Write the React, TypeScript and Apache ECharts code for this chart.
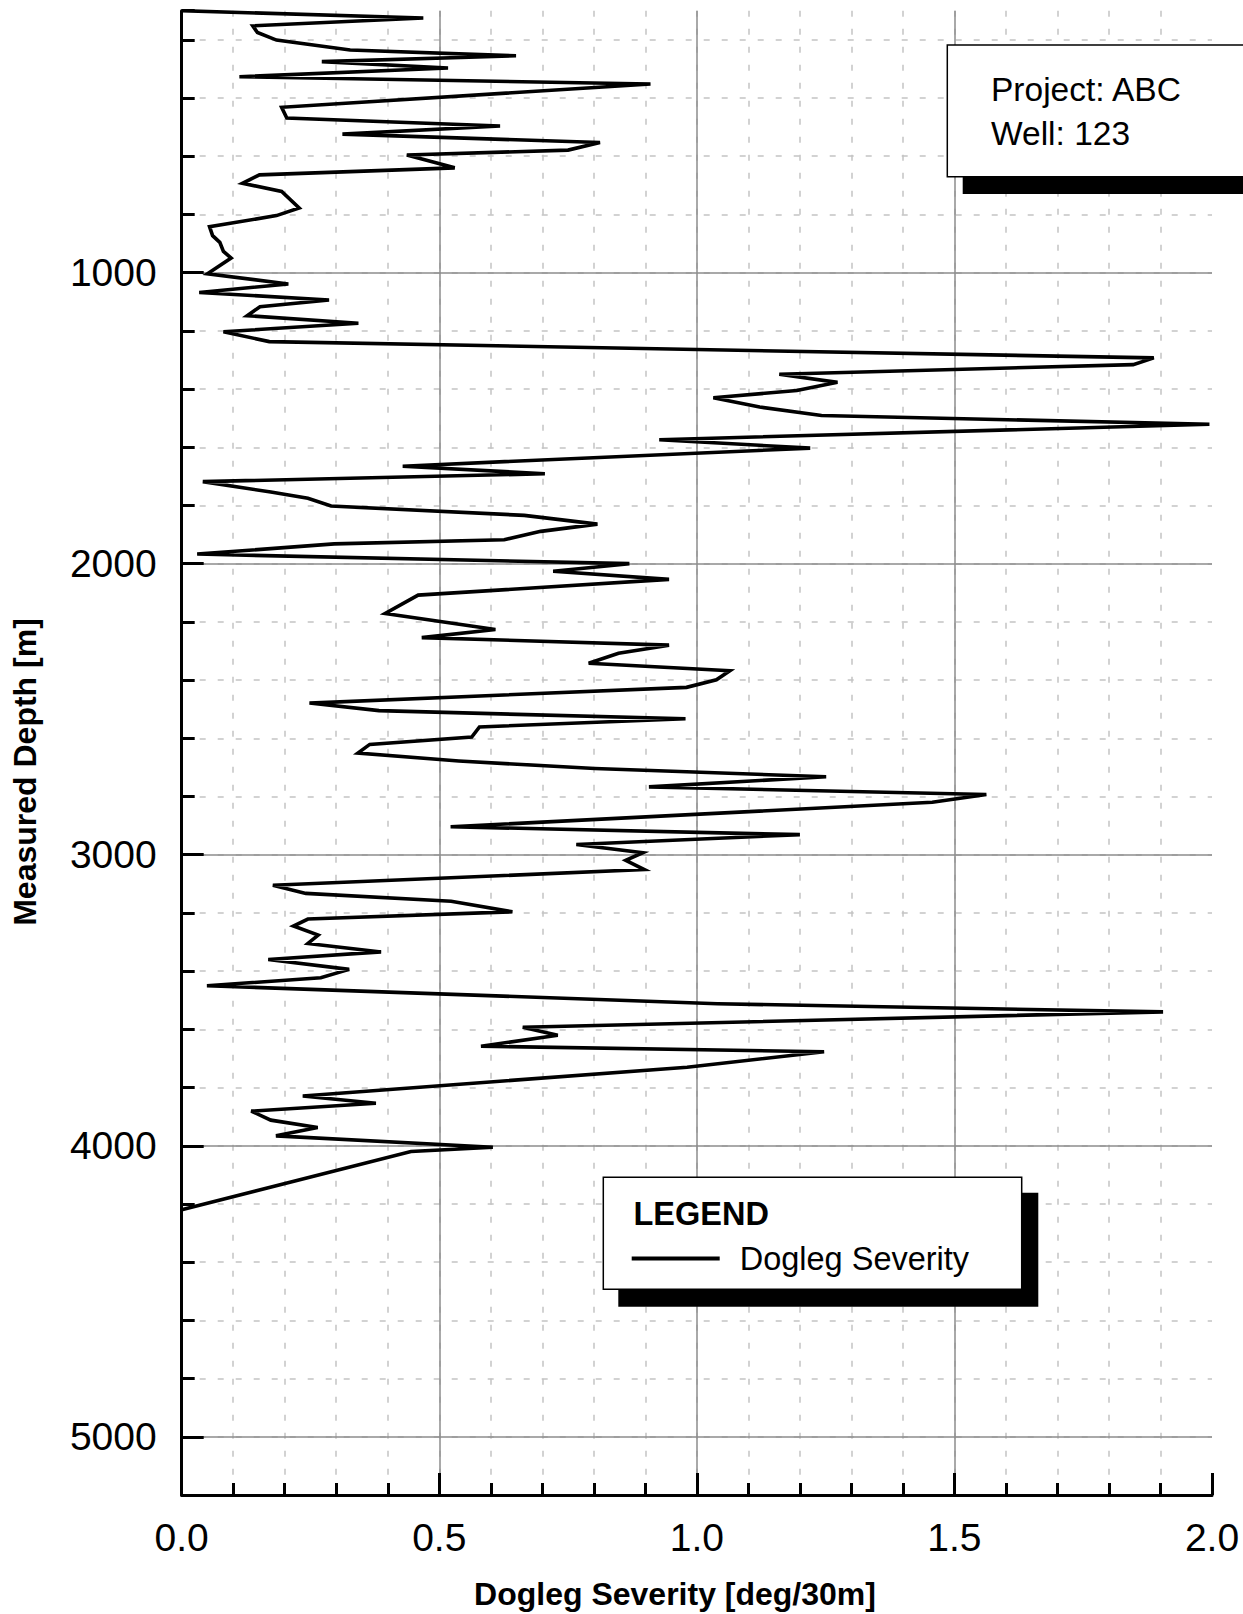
import React, { useEffect, useRef } from "react";
import * as echarts from "echarts";

// Measured depth [m] of each survey station
const depths = [
  100, 125, 152, 175, 201, 235, 255, 275, 297, 327,
  352, 432, 469, 496, 524, 553, 579, 596, 640, 664,
  693, 721, 778, 804, 842, 873, 896, 927, 950, 1004,
  1039, 1068, 1094, 1117, 1148, 1174, 1203, 1237, 1293, 1316,
  1349, 1377, 1405, 1430, 1462, 1491, 1521, 1574, 1603, 1665,
  1691, 1718, 1754, 1775, 1802, 1834, 1864, 1889, 1918, 1932,
  1967, 2000, 2026, 2054, 2108, 2171, 2226, 2254, 2280, 2308,
  2342, 2368, 2399, 2425, 2479, 2505, 2533, 2561, 2596, 2621,
  2651, 2678, 2704, 2732, 2767, 2793, 2820, 2904, 2931, 2965,
  2993, 3019, 3051, 3105, 3133, 3160, 3196, 3221, 3245, 3276,
  3305, 3334, 3360, 3394, 3423, 3450, 3512, 3540, 3593, 3620,
  3658, 3677, 3730, 3829, 3854, 3881, 3912, 3937, 3966, 4005,
  4020, 4220,
];

// Dogleg severity [deg/30m] at each station
const dogleg = [
  0.0, 0.469, 0.138, 0.147, 0.184, 0.327, 0.649, 0.272, 0.517, 0.112,
  0.91, 0.194, 0.204, 0.618, 0.312, 0.812, 0.75, 0.437, 0.53, 0.151,
  0.118, 0.194, 0.228, 0.184, 0.054, 0.06, 0.074, 0.081, 0.096, 0.05,
  0.207, 0.034, 0.286, 0.152, 0.127, 0.343, 0.081, 0.17, 1.887, 1.847,
  1.16, 1.273, 1.194, 1.032, 1.122, 1.242, 1.995, 0.927, 1.22, 0.429,
  0.705, 0.041, 0.173, 0.245, 0.29, 0.665, 0.807, 0.697, 0.626, 0.296,
  0.03, 0.869, 0.721, 0.946, 0.459, 0.395, 0.609, 0.466, 0.946, 0.848,
  0.79, 1.064, 1.038, 0.98, 0.248, 0.383, 0.978, 0.578, 0.563, 0.365,
  0.342, 0.538, 0.802, 1.251, 0.907, 1.562, 1.457, 0.522, 1.2, 0.766,
  0.895, 0.862, 0.898, 0.177, 0.241, 0.523, 0.642, 0.245, 0.217, 0.265,
  0.245, 0.387, 0.168, 0.325, 0.27, 0.049, 1.04, 1.905, 0.662, 0.73,
  0.581, 1.247, 0.981, 0.235, 0.377, 0.135, 0.173, 0.264, 0.183, 0.604,
  0.445, 0.0,
];

const yTickLabels = [1000, 2000, 3000, 4000, 5000];
const xTickLabels = ["0.0", "0.5", "1.0", "1.5", "2.0"];
const seriesName = "Dogleg Severity";
const infoLines = ["Project: ABC", "Well: 123"];
const xTitle = "Dogleg Severity [deg/30m]";
const yTitle = "Measured Depth [m]";
const legendTitle = "LEGEND";

const FONT = "'Liberation Sans', Arial, Helvetica, sans-serif";

export default function App() {
  const ref = useRef<HTMLDivElement>(null);

  useEffect(() => {
    if (!ref.current) return;
    const chart = echarts.init(ref.current, undefined, { renderer: "svg" });
    const data = depths.map((d, i) => [dogleg[i], d]);

    const option: any = {
      animation: false,
      backgroundColor: "#ffffff",
      grid: {
        left: 181.7,
        right: 31,
        top: 10.7,
        bottom: 119,
        containLabel: false,
        outerBoundsMode: "none",
      },
      xAxis: [
        {
          type: "value",
          position: "bottom",
          min: 0,
          max: 2,
          interval: 0.5,
          z: 3,
          axisLine: { show: true, onZero: false, lineStyle: { color: "#000", width: 3 } },
          axisTick: { show: true, inside: true, length: 22, lineStyle: { color: "#000", width: 3 } },
          axisLabel: {
            show: true,
            margin: 23,
            color: "#000",
            fontSize: 39,
            fontFamily: FONT,
            formatter: (v: number) => xTickLabels[Math.round(v / 0.5)] ?? "",
          },
          splitLine: {
            show: true,
            showMinLine: false,
            showMaxLine: false,
            lineStyle: { color: "#8c8c8c", width: 1.5, type: "solid" },
          },
        },
        {
          type: "value",
          position: "bottom",
          min: 0,
          max: 2,
          interval: 0.1,
          z: 1,
          axisLine: { show: false, onZero: false },
          axisTick: { show: true, inside: true, length: 12, lineStyle: { color: "#000", width: 3 } },
          axisLabel: { show: false },
          splitLine: {
            show: true,
            showMinLine: false,
            showMaxLine: false,
            lineStyle: { color: "#c4c4c4", width: 1.5, type: [6, 12] },
          },
        },
      ],
      yAxis: [
        {
          type: "value",
          position: "left",
          inverse: true,
          min: 100,
          max: 5200,
          splitNumber: 5,
          minInterval: 1000,
          maxInterval: 1000,
          z: 3,
          axisLine: { show: true, onZero: false, lineStyle: { color: "#000", width: 3 } },
          axisTick: { show: true, inside: true, length: 22, lineStyle: { color: "#000", width: 3 } },
          axisLabel: {
            show: true,
            showMinLabel: false,
            showMaxLabel: false,
            margin: 25,
            color: "#000",
            fontSize: 39,
            fontFamily: FONT,
            formatter: (v: number) => (yTickLabels.indexOf(v) >= 0 ? String(v) : ""),
          },
          splitLine: {
            show: true,
            showMinLine: false,
            showMaxLine: false,
            lineStyle: { color: "#8c8c8c", width: 1.5, type: "solid" },
          },
        },
        {
          type: "value",
          position: "left",
          inverse: true,
          min: 100,
          max: 5200,
          splitNumber: 25,
          minInterval: 200,
          maxInterval: 200,
          z: 1,
          axisLine: { show: false, onZero: false },
          axisTick: { show: true, inside: true, length: 13, lineStyle: { color: "#000", width: 3 } },
          axisLabel: { show: false },
          splitLine: {
            show: true,
            showMinLine: false,
            showMaxLine: false,
            lineStyle: { color: "#c4c4c4", width: 1.5, type: [6, 12] },
          },
        },
      ],
      legend: {
        show: true,
        left: 631.7,
        top: 1242,
        padding: 0,
        itemWidth: 88,
        itemHeight: 4,
        itemGap: 0,
        selectedMode: false,
        z: 200,
        data: [{ name: seriesName, icon: "rect", itemStyle: { color: "#000" } }],
        textStyle: { fontSize: 32.5, fontFamily: FONT, color: "#000", padding: [0, 0, 0, 15] },
      },
      series: [
        {
          name: seriesName,
          type: "line",
          xAxisIndex: 0,
          yAxisIndex: 0,
          data,
          showSymbol: false,
          symbol: "none",
          z: 10,
          color: "#000",
          lineStyle: { color: "#000", width: 3.6, join: "miter" },
          itemStyle: { color: "#000" },
        },
      ],
      graphic: [
        // info box
        { type: "rect", z: 100, shape: { x: 962.7, y: 61, width: 400, height: 133 }, style: { fill: "#000" } },
        {
          type: "rect",
          z: 101,
          shape: { x: 947.3, y: 45, width: 400, height: 131.7 },
          style: { fill: "#fff", stroke: "#000", lineWidth: 1.5 },
        },
        {
          type: "text",
          z: 102,
          x: 991,
          y: 89,
          style: { text: infoLines[0], fontSize: 33.5, fontFamily: FONT, fill: "#000", align: "left", verticalAlign: "middle" },
        },
        {
          type: "text",
          z: 102,
          x: 991,
          y: 133,
          style: { text: infoLines[1], fontSize: 33.5, fontFamily: FONT, fill: "#000", align: "left", verticalAlign: "middle" },
        },
        // legend box
        { type: "rect", z: 100, shape: { x: 618.3, y: 1192.7, width: 420, height: 114 }, style: { fill: "#000" } },
        {
          type: "rect",
          z: 101,
          shape: { x: 603.3, y: 1177.3, width: 418.4, height: 112 },
          style: { fill: "#fff", stroke: "#000", lineWidth: 1.5 },
        },
        {
          type: "text",
          z: 102,
          x: 633.5,
          y: 1213.5,
          style: {
            text: legendTitle,
            fontSize: 32.5,
            fontWeight: "bold",
            fontFamily: FONT,
            fill: "#000",
            align: "left",
            verticalAlign: "middle",
          },
        },
        // axis titles
        {
          type: "text",
          z: 102,
          x: 675,
          y: 1594,
          style: {
            text: xTitle,
            fontSize: 32,
            fontWeight: "bold",
            fontFamily: FONT,
            fill: "#000",
            align: "center",
            verticalAlign: "middle",
          },
        },
        {
          type: "text",
          z: 102,
          x: 25,
          y: 772,
          rotation: Math.PI / 2,
          style: {
            text: yTitle,
            fontSize: 32,
            fontWeight: "bold",
            fontFamily: FONT,
            fill: "#000",
            align: "center",
            verticalAlign: "middle",
          },
        },
      ],
    };

    chart.setOption(option);
    return () => chart.dispose();
  }, []);

  return (
    <div
      ref={ref}
      style={{ position: "absolute", left: 0, top: 0, width: 1243, height: 1614, background: "#fff" }}
    />
  );
}
